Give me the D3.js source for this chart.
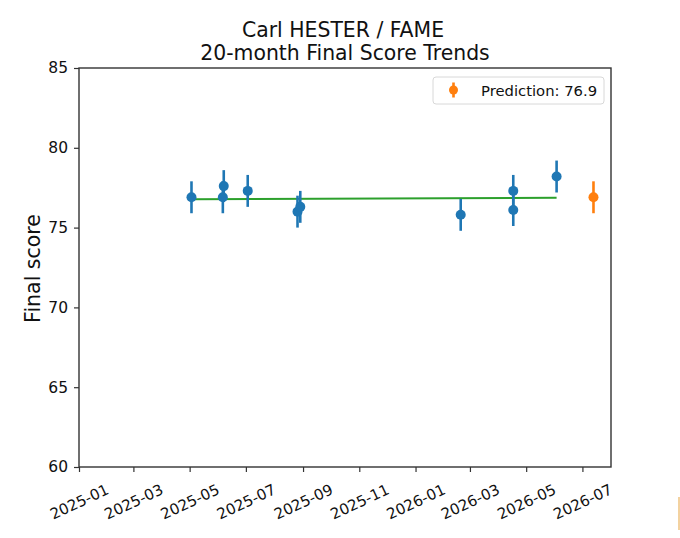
<!DOCTYPE html>
<html>
<head>
<meta charset="utf-8">
<script src="https://cdn.jsdelivr.net/npm/d3@7/dist/d3.min.js"></script>
<style>
  html, body { margin: 0; padding: 0; background: #fff; }
  svg { display: block; font-family: "DejaVu Sans", sans-serif; }
</style>
</head>
<body>
<svg id="chart" width="680" height="538"></svg>
<script>
// observed scores
const dates  = ["2025-05-03", "2025-06-06", "2025-06-07", "2025-07-03", "2025-08-26",
                "2025-08-29", "2026-02-19", "2026-04-17", "2026-04-17", "2026-06-03"]
const scores = [76.9, 76.9, 77.6, 77.3, 76.0, 76.3, 75.8, 77.3, 76.1, 78.2]
const errors = [1.0, 1.0, 1.0, 1.0, 1.0, 1.0, 1.0, 1.0, 1.0, 1.0]

// trend line endpoints
const trendDates  = ["2025-05-03", "2026-06-03"]
const trendScores = [76.78, 76.87]

// prediction
const predDate  = "2026-07-13"
const predScore = 76.9
const predError = 1.0

const yTicks = [60, 65, 70, 75, 80, 85]
const xTicks = ["2025-01", "2025-03", "2025-05", "2025-07", "2025-09", "2025-11",
                "2026-01", "2026-03", "2026-05", "2026-07"]

const BLUE = "#1f77b4", ORANGE = "#ff7f0e", GREEN = "#2ca02c"

const parse = d3.timeParse("%Y-%m-%d")
const parseMonth = d3.timeParse("%Y-%m")

const M = { left: 79, right: 611, top: 68, bottom: 467 }
const svg = d3.select("#chart")

const x = d3.scaleTime()
  .domain([parse("2025-01-01"), parse("2026-08-01")])
  .range([M.left, M.right])
const y = d3.scaleLinear().domain([60, 85]).range([M.bottom, M.top])

// title
svg.append("text").attr("x", 343).attr("y", 37).attr("text-anchor", "middle")
  .attr("font-size", "20.4px").attr("fill", "#111").text("Carl HESTER / FAME")
svg.append("text").attr("x", 345).attr("y", 60).attr("text-anchor", "middle")
  .attr("font-size", "20.4px").attr("fill", "#111").text("20-month Final Score Trends")

// y axis
const yAxis = svg.append("g").attr("transform", `translate(${M.left},0)`)
  .call(d3.axisLeft(y).tickValues(yTicks).tickSize(5).tickPadding(6))
yAxis.select(".domain").remove()
yAxis.selectAll("text").attr("font-size", "15.5px").attr("fill", "#111")
  .attr("font-family", "DejaVu Sans, sans-serif")
yAxis.selectAll("line").attr("stroke", "#333").attr("stroke-width", 1.2)

svg.append("text")
  .attr("transform", `translate(40,${(M.top + M.bottom) / 2 + 1}) rotate(-90)`)
  .attr("text-anchor", "middle").attr("font-size", "20.5px").attr("fill", "#111")
  .text("Final score")

// x axis
const xAxis = svg.append("g").attr("transform", `translate(0,${M.bottom})`)
  .call(d3.axisBottom(x).tickValues(xTicks.map(parseMonth)).tickSize(5)
    .tickFormat(d3.timeFormat("%Y-%m")))
xAxis.select(".domain").remove()
xAxis.selectAll("line").attr("stroke", "#333").attr("stroke-width", 1.2)
xAxis.selectAll("text")
  .attr("font-size", "15px").attr("fill", "#111")
  .attr("font-family", "DejaVu Sans, sans-serif")
  .attr("text-anchor", "middle")
  .attr("dominant-baseline", "central")
  .attr("dy", null)
  .attr("y", 0)
  .attr("transform", "translate(0,35) rotate(-25)")

// frame
svg.append("rect").attr("x", M.left).attr("y", M.top)
  .attr("width", M.right - M.left).attr("height", M.bottom - M.top)
  .attr("fill", "none").attr("stroke", "#333").attr("stroke-width", 1.4)

// trend line
svg.append("path")
  .datum(trendDates.map((d, i) => [parse(d), trendScores[i]]))
  .attr("fill", "none").attr("stroke", GREEN).attr("stroke-width", 2)
  .attr("d", d3.line().x(d => x(d[0])).y(d => y(d[1])))

// observed points with error bars
const pts = dates.map((d, i) => ({ date: parse(d), score: scores[i], err: errors[i] }))
const g = svg.append("g")
g.selectAll("line.err").data(pts).join("line").attr("class", "err")
  .attr("x1", d => x(d.date)).attr("x2", d => x(d.date))
  .attr("y1", d => y(d.score - d.err)).attr("y2", d => y(d.score + d.err))
  .attr("stroke", BLUE).attr("stroke-width", 2.6)
g.selectAll("circle").data(pts).join("circle")
  .attr("cx", d => x(d.date)).attr("cy", d => y(d.score))
  .attr("r", 5).attr("fill", BLUE)

// prediction
svg.append("line")
  .attr("x1", x(parse(predDate))).attr("x2", x(parse(predDate)))
  .attr("y1", y(predScore - predError)).attr("y2", y(predScore + predError))
  .attr("stroke", ORANGE).attr("stroke-width", 2.6)
svg.append("circle").attr("cx", x(parse(predDate))).attr("cy", y(predScore))
  .attr("r", 5).attr("fill", ORANGE)

// legend
const lg = svg.append("g").attr("transform", "translate(433,77)")
lg.append("rect").attr("width", 171).attr("height", 27).attr("rx", 3)
  .attr("fill", "#fff").attr("stroke", "#d8d8d8")
lg.append("line").attr("x1", 20.5).attr("x2", 20.5).attr("y1", 5.5).attr("y2", 20.5)
  .attr("stroke", ORANGE).attr("stroke-width", 2.6)
lg.append("circle").attr("cx", 20.5).attr("cy", 13).attr("r", 4.5).attr("fill", ORANGE)
lg.append("text").attr("x", 48).attr("y", 18.5).attr("font-size", "14.8px")
  .attr("fill", "#111").text(`Prediction: ${predScore}`)

// faint edge mark seen at the right of the reference image
svg.append("rect").attr("x", 678).attr("y", 497).attr("width", 2).attr("height", 33)
  .attr("fill", "#f3d2a0")
</script>
</body>
</html>
